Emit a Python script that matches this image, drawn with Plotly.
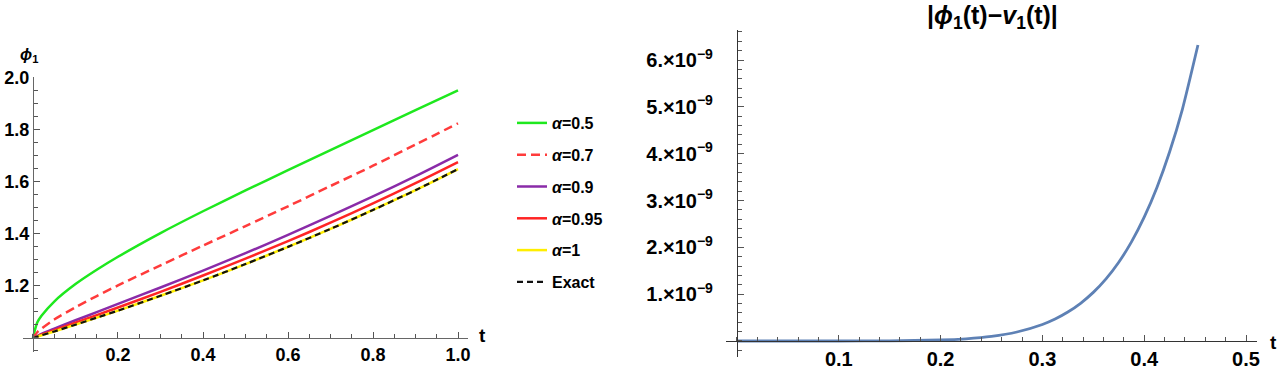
import plotly.graph_objects as go

# ---------------- data ----------------
t = [0, 0.01, 0.02, 0.05, 0.1, 0.15, 0.2, 0.3, 0.4, 0.5, 0.6, 0.7, 0.8, 0.9, 1.0]
phi_a050 = [1.0, 1.059, 1.085, 1.140, 1.207, 1.262, 1.312, 1.403, 1.487, 1.567, 1.645, 1.722, 1.799, 1.876, 1.952]
phi_a070 = [1.0, 1.022, 1.036, 1.071, 1.118, 1.161, 1.202, 1.279, 1.355, 1.430, 1.506, 1.584, 1.662, 1.743, 1.825]
phi_a090 = [1.0, 1.008, 1.016, 1.036, 1.068, 1.099, 1.131, 1.194, 1.259, 1.326, 1.396, 1.469, 1.544, 1.622, 1.704]
phi_a095 = [1.0, 1.006, 1.013, 1.030, 1.059, 1.088, 1.117, 1.177, 1.240, 1.305, 1.372, 1.443, 1.517, 1.595, 1.676]
phi_a100 = [1.0, 1.005, 1.010, 1.025, 1.051, 1.078, 1.105, 1.162, 1.221, 1.284, 1.350, 1.419, 1.492, 1.568, 1.649]
phi_exact = [1.0, 1.005, 1.010, 1.025, 1.051, 1.078, 1.105, 1.162, 1.221, 1.284, 1.350, 1.419, 1.492, 1.568, 1.649]

series_names = ["<i>α</i>=0.5", "<i>α</i>=0.7", "<i>α</i>=0.9", "<i>α</i>=0.95", "<i>α</i>=1", "Exact"]

t_err = [0, 0.05, 0.1, 0.15, 0.2, 0.225, 0.25, 0.275, 0.3, 0.3125, 0.325, 0.3375, 0.35,
         0.3625, 0.375, 0.3875, 0.4, 0.4125, 0.425, 0.4375, 0.4528]
err = [0, 0.0000013e-9, 0.00016e-9, 0.0028e-9, 0.0206e-9, 0.047e-9, 0.098e-9, 0.192e-9, 0.353e-9,
       0.469e-9, 0.618e-9, 0.805e-9, 1.038e-9, 1.327e-9, 1.682e-9, 2.116e-9, 2.643e-9, 3.278e-9,
       4.040e-9, 4.948e-9, 6.32e-9]

left_xticks = [0.2, 0.4, 0.6, 0.8, 1.0]
left_yticks = [1.2, 1.4, 1.6, 1.8, 2.0]
right_xticks = [0.1, 0.2, 0.3, 0.4, 0.5]
right_yticks = [1e-9, 2e-9, 3e-9, 4e-9, 5e-9, 6e-9]
right_yticktext = ["1.×10<sup>−9</sup>", "2.×10<sup>−9</sup>", "3.×10<sup>−9</sup>",
                   "4.×10<sup>−9</sup>", "5.×10<sup>−9</sup>", "6.×10<sup>−9</sup>"]

# ---------------- layout helpers ----------------
W, H = 1280, 371
FONT = "Liberation Sans, Arial, sans-serif"

def px_x(p):
    return p / W

def px_y(p):
    return 1 - p / H

fig = go.Figure()

styles = [
    dict(color="#1EE81E", width=2.5),
    dict(color="#FF3B3B", width=2.5, dash="9px,5px"),
    dict(color="#8A2BA8", width=2.5),
    dict(color="#FF2424", width=2.5),
    dict(color="#FFEE00", width=2.5),
    dict(color="#111111", width=2.2, dash="6px,4px"),
]
for i, (name, ys) in enumerate(zip(series_names,
                                   [phi_a050, phi_a070, phi_a090, phi_a095, phi_a100, phi_exact])):
    fig.add_trace(go.Scatter(
        x=t, y=ys, mode="lines", name=name, line=dict(shape="spline", smoothing=0.8, **styles[i]),
        xaxis="x", yaxis="y", legendgroup=f"g{i}", showlegend=True,
    ))

fig.add_trace(go.Scatter(
    x=t_err, y=err, mode="lines", name="error", showlegend=False,
    line=dict(color="#5E81B5", width=2.8, shape="spline", smoothing=0.6),
    xaxis="x2", yaxis="y2",
))

axis_common = dict(showgrid=False, zeroline=False, showline=True, ticks="inside",
                   tickcolor="#555", linewidth=1.2, automargin=False)

fig.update_layout(
    template="none",
    width=W, height=H, autosize=False,
    margin=dict(l=0, r=0, t=0, b=0, pad=0),
    paper_bgcolor="white", plot_bgcolor="white",
    font=dict(family=FONT, color="black"),
    xaxis=dict(domain=[px_x(23), px_x(468)], range=[-0.0235, 1.0235],
               anchor="free", position=px_y(338), linecolor="#666",
               tickmode="array", tickvals=left_xticks, tickformat=".1f", ticklen=6, tickwidth=1.3,
               tickfont=dict(size=18, family=FONT, weight="bold"),
               minor=dict(ticks="inside", tickmode="linear", tick0=0, dtick=0.05, ticklen=4,
                          tickcolor="#555", tickwidth=1.1),
               **axis_common),
    yaxis=dict(domain=[px_y(352), px_y(77)], range=[0.946, 2.003],
               anchor="free", position=px_x(33), linecolor="#666",
               tickmode="array", tickvals=left_yticks, tickformat=".1f", ticklen=6, tickwidth=1.3,
               tickfont=dict(size=18, family=FONT, weight="bold"),
               minor=dict(ticks="inside", tickmode="linear", tick0=1.0, dtick=0.05, ticklen=4,
                          tickcolor="#555", tickwidth=1.1),
               **axis_common),
    xaxis2=dict(domain=[px_x(726), px_x(1257)], range=[-0.0108, 0.5108],
                anchor="free", position=px_y(341), linecolor="#333",
                tickmode="array", tickvals=right_xticks, tickformat=".1f", ticklen=6, tickwidth=1.3,
                tickfont=dict(size=20, family=FONT, weight="bold"),
                minor=dict(ticks="inside", tickmode="linear", tick0=0, dtick=0.02, ticklen=4,
                           tickcolor="#555", tickwidth=1.1),
                **axis_common),
    yaxis2=dict(domain=[px_y(357), px_y(30)], range=[-0.342e-9, 6.641e-9],
                anchor="free", position=px_x(737), linecolor="#333",
                tickmode="array", tickvals=right_yticks, ticktext=right_yticktext, ticklen=6,
                tickwidth=1.3, tickfont=dict(size=20, family=FONT, weight="bold"),
                ticklabelstandoff=20,
                minor=dict(ticks="inside", tickmode="linear", tick0=0, dtick=0.2e-9, ticklen=4,
                           tickcolor="#555", tickwidth=1.1),
                **axis_common),
    legend=dict(x=px_x(512), y=px_y(106), xanchor="left", yanchor="top",
                font=dict(size=16, family=FONT, weight="bold"), tracegroupgap=8,
                bgcolor="rgba(0,0,0,0)", itemwidth=30),
    showlegend=True,
)

def ann(text, x, y, size):
    return dict(text=text, x=px_x(x), y=px_y(y), xref="paper", yref="paper",
                xanchor="center", yanchor="middle", showarrow=False,
                font=dict(size=size, family=FONT, color="black"))

fig.update_layout(annotations=[
    ann("<b><i>ϕ</i><sub>1</sub></b>", 29, 56, 16),
    ann("<b>t</b>", 482, 335, 19),
    ann("<b>t</b>", 1273, 342, 19),
    ann("<b>|<i>ϕ</i><sub>1</sub>(t)−<i>v</i><sub>1</sub>(t)|</b>", 992, 17, 25),
])

fig.write_html("out.html", config={"displayModeBar": False},
               post_script="document.body.style.margin='0';")
